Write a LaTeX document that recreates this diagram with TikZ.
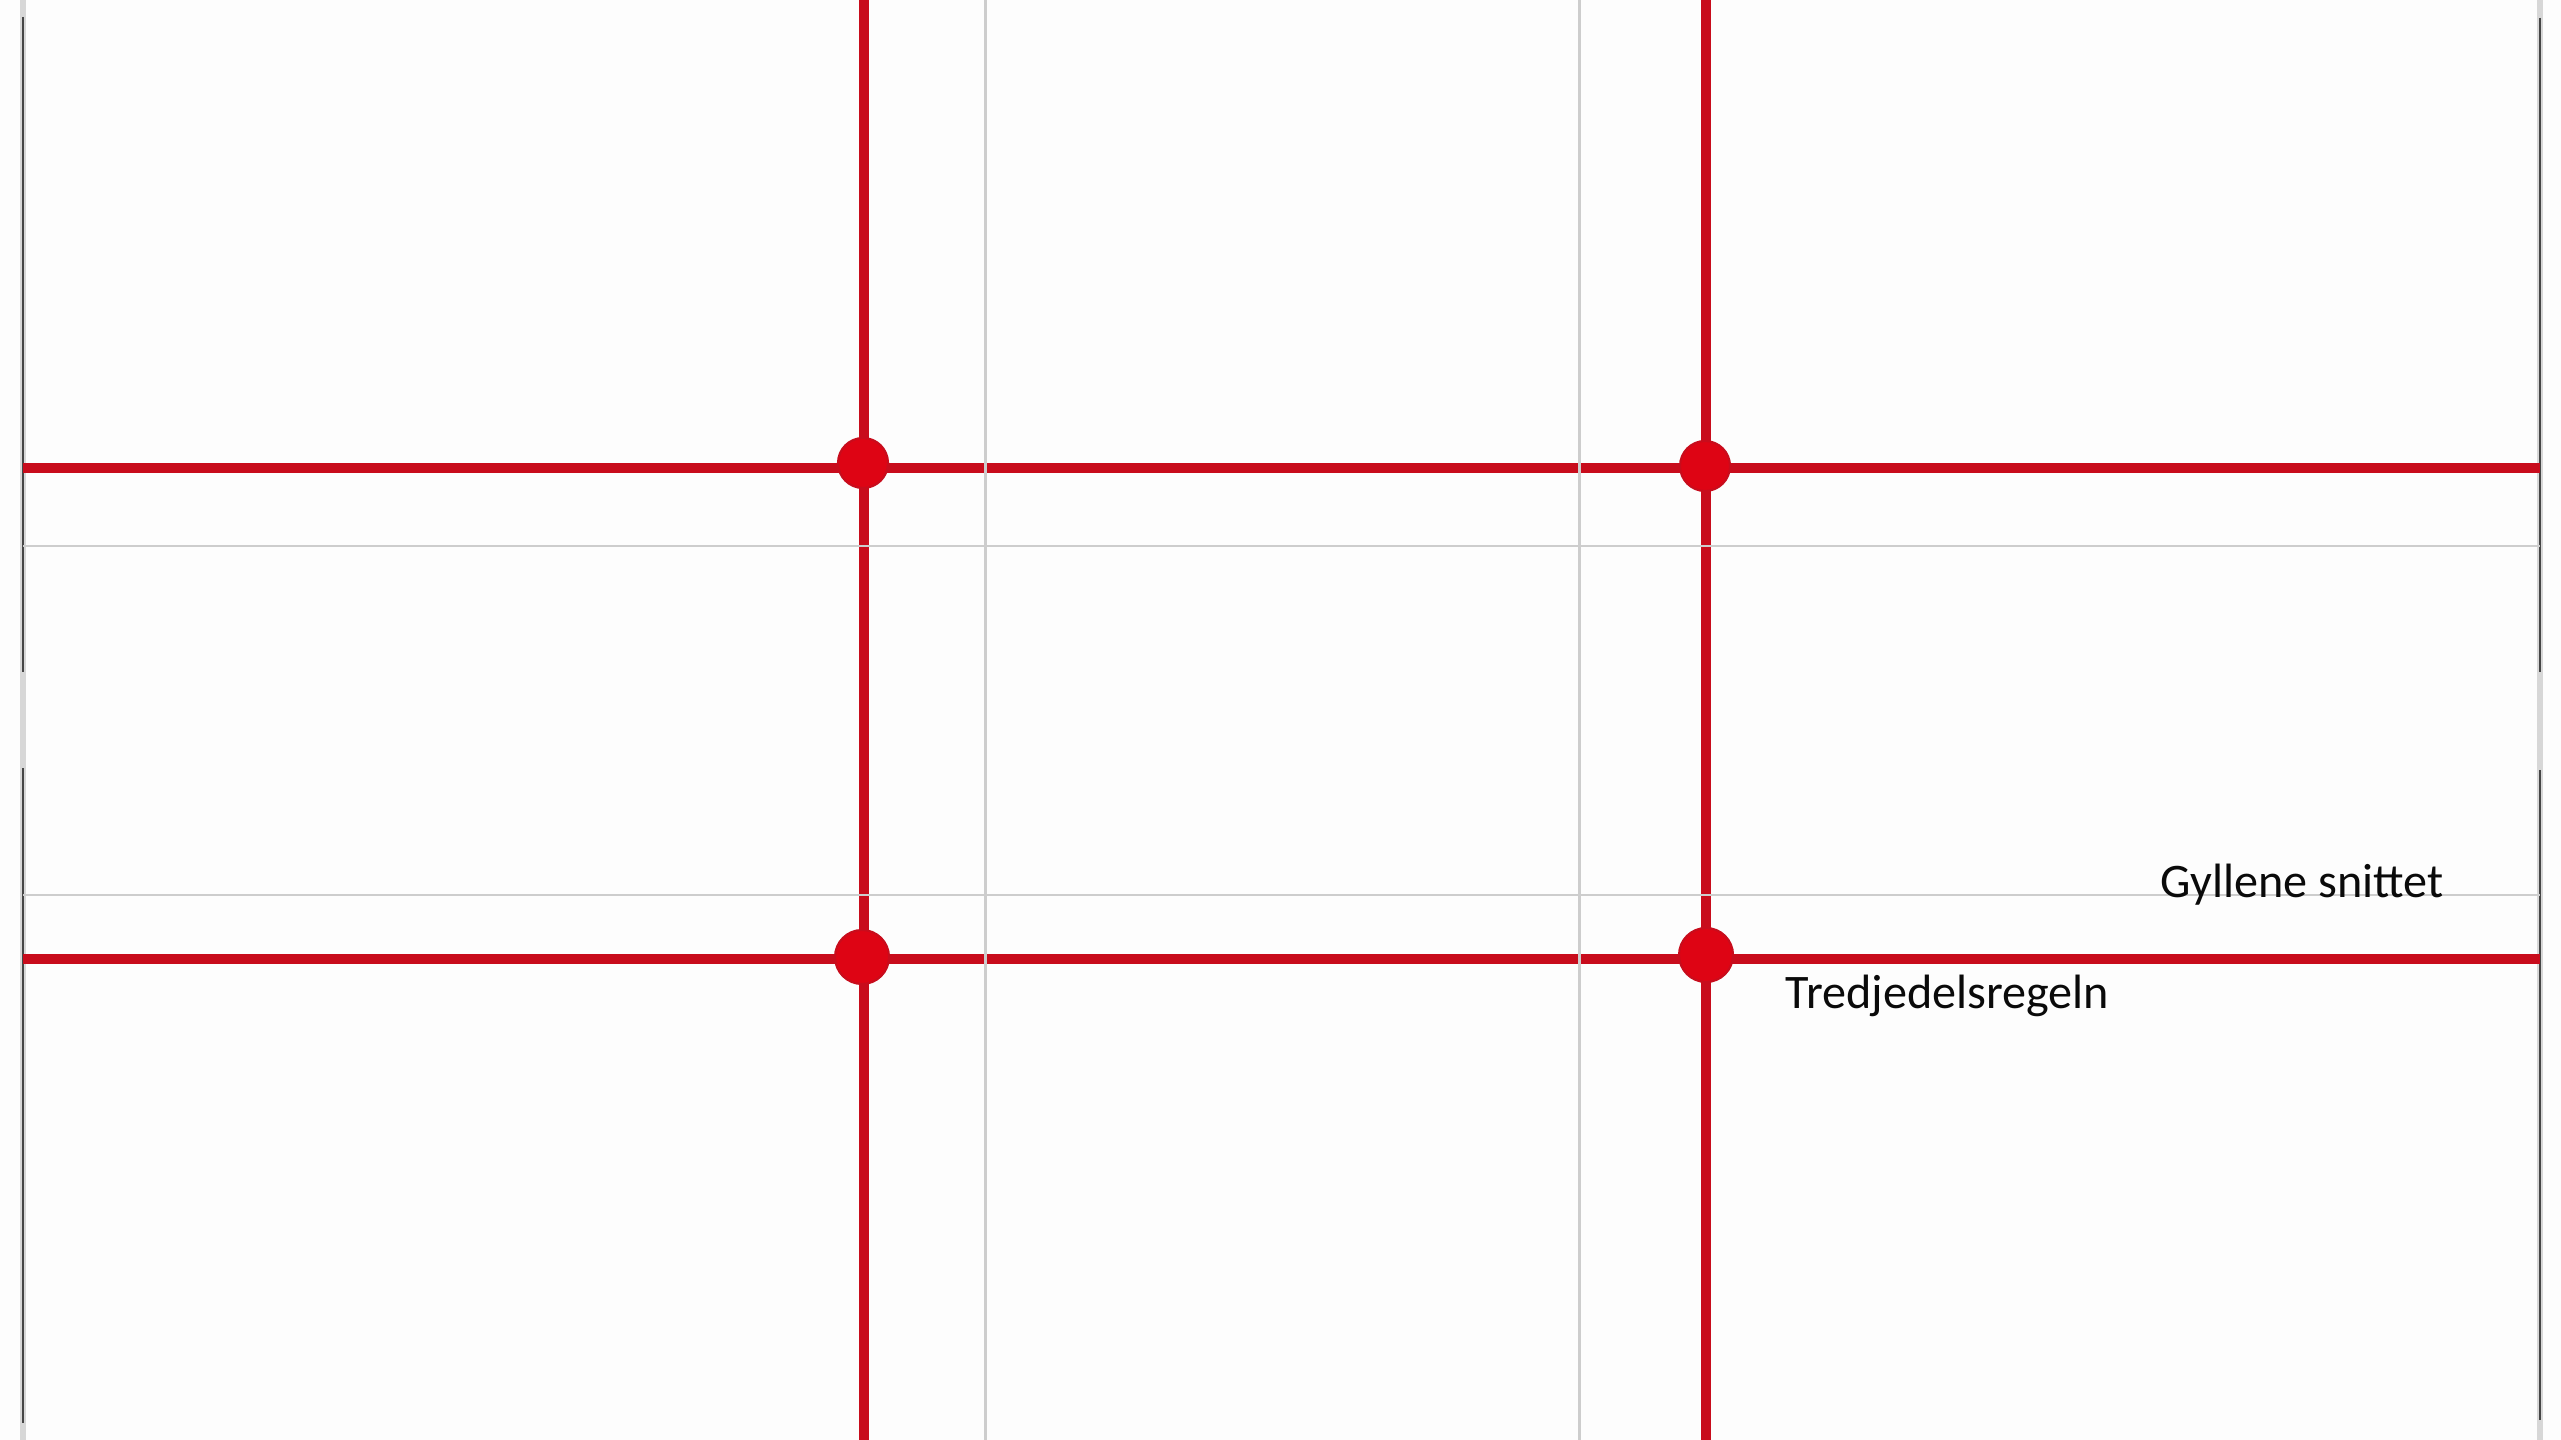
\documentclass[tikz,border=0pt]{standalone}
\usepackage{fontspec}
\setmainfont{Carlito}
\usepackage{tikz}
\usetikzlibrary{positioning}
\definecolor{ink}{RGB}{10,10,10}
\definecolor{rulered}{RGB}{200,12,28}
\definecolor{dotred}{RGB}{222,4,20}
\definecolor{guide}{RGB}{205,205,205}
\definecolor{edge}{RGB}{70,70,70}
\definecolor{edgesoft}{RGB}{215,215,215}
\definecolor{paper}{RGB}{253,253,253}
\tikzset{
  thirdline/.style ={draw=rulered, line width=3.1pt},
  goldline/.style  ={draw=guide, line width=0.85pt},
  frameline/.style ={draw=edge, line width=0.75pt},
  framesoft/.style ={draw=edgesoft, line width=1.6pt},
  crossdot/.style  ={circle, fill=dotred, draw=rulered, line width=0.6pt,
                     minimum size=0.5cm, inner sep=0pt},
  caption/.style   ={font=\fontsize{13.7pt}{16pt}\selectfont, color=ink,
                     anchor=base west, inner sep=0pt},
}

\begin{document}
\begin{tikzpicture}[x=0.01cm, y=-0.01cm]
\useasboundingbox[fill=paper] (0,0) rectangle (2561,1440);

% frame edges
\draw[framesoft] (23,0) -- (23,1440);
\draw[framesoft] (2540,0) -- (2540,1440);
\draw[frameline] (23,17) -- (23,672);
\draw[frameline] (23,768) -- (23,1423);
\draw[frameline] (2540,18) -- (2540,672);
\draw[frameline] (2540,770) -- (2540,1420);

% rule of thirds
\draw[thirdline] (864,0) -- (864,1440);
\draw[thirdline] (1706,0) -- (1706,1440);
\draw[thirdline] (23,468) -- (2540,468);
\draw[thirdline] (23,959) -- (2540,959);

% golden section
\draw[goldline] (985,0) -- (985,1440);
\draw[goldline] (1579,0) -- (1579,1440);
\draw[goldline] (23,546) -- (2540,546);
\draw[goldline] (23,895) -- (2540,895);

\node[crossdot] (tl) at (863,463) {};
\node[crossdot] (tr) at (1705,466) {};
\node[crossdot, minimum size=0.54cm] (bl) at (862,957) {};
\node[crossdot, minimum size=0.54cm] (br) at (1706,955) {};

\node[caption] (golden) at (2160,897) {Gyllene snittet};
\node[caption] (thirds) at (1785,1008) {Tredjedelsregeln};
\end{tikzpicture}
\end{document}
